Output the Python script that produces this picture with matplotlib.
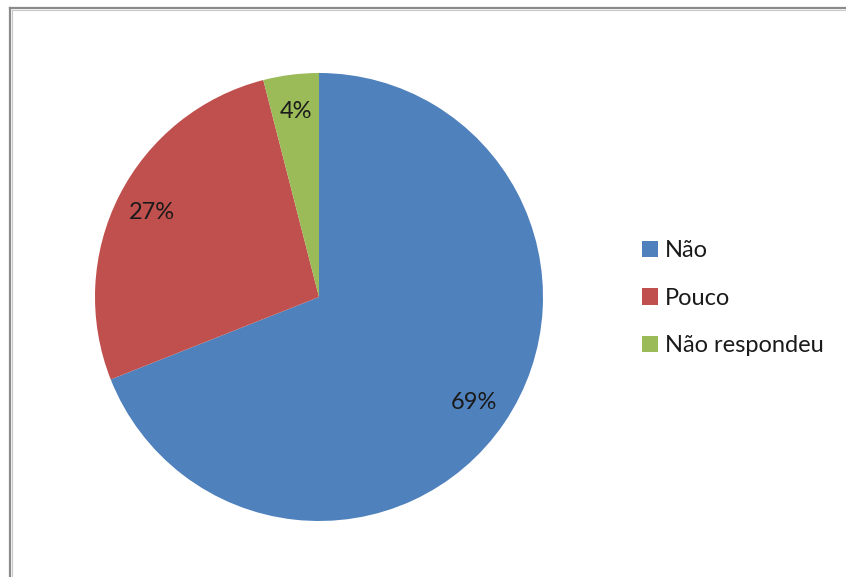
import matplotlib
matplotlib.use("Agg")
import matplotlib.pyplot as plt
from matplotlib.lines import Line2D
from matplotlib.patches import Patch

categories = ["Não", "Pouco", "Não respondeu"]
values = [69, 27, 4]
colors = ["#4F81BD", "#C0504D", "#9BBB59"]

W, H = 846, 577
DPI = 100
fig = plt.figure(figsize=(W / DPI, H / DPI), dpi=DPI)
fig.patch.set_facecolor("white")

plt.rcParams["font.family"] = ["Lato", "DejaVu Sans"]

# Pie placed by pixel centre and radius
cx, cy, r = 319, 297, 224
ax = fig.add_axes([(cx - r) / W, (H - cy - r) / H, 2 * r / W, 2 * r / H])
wedges, texts, autotexts = ax.pie(
    values,
    colors=colors,
    startangle=90,
    counterclock=False,
    autopct="%1.0f%%",
    pctdistance=0.835,
    radius=1.0,
    wedgeprops=dict(linewidth=0),
    textprops=dict(fontsize=17, color="#1a1a1a"),
)
ax.set_xlim(-1, 1)
ax.set_ylim(-1, 1)
ax.set_aspect("equal")
ax.axis("off")

# Legend on the right
handles = [Patch(facecolor=c, edgecolor="none") for c in colors]
leg = fig.legend(
    handles, categories,
    loc="upper left",
    bbox_to_anchor=(642 / W, 1 - 240 / H),
    frameon=False,
    fontsize=17,
    handlelength=0.68,
    handleheight=0.68,
    handletextpad=0.3,
    labelspacing=1.13,
    borderaxespad=0,
    borderpad=0,
)
for t in leg.get_texts():
    t.set_color("#1a1a1a")

# Chart area border (top and left edges visible)
fig.add_artist(Line2D([10 / W, 10 / W], [0, 1 - 8 / H], transform=fig.transFigure,
                      color="#8a8a8a", linewidth=1.6))
fig.add_artist(Line2D([10 / W, 1], [1 - 8 / H, 1 - 8 / H], transform=fig.transFigure,
                      color="#8a8a8a", linewidth=1.6))
fig.add_artist(Line2D([11.5 / W, 11.5 / W], [0, 1 - 9.5 / H], transform=fig.transFigure,
                      color="#c8c8c8", linewidth=0.8))
fig.add_artist(Line2D([11.5 / W, 1], [1 - 9.5 / H, 1 - 9.5 / H], transform=fig.transFigure,
                      color="#c8c8c8", linewidth=0.8))

fig.savefig("out.png", dpi=DPI, facecolor="white")
